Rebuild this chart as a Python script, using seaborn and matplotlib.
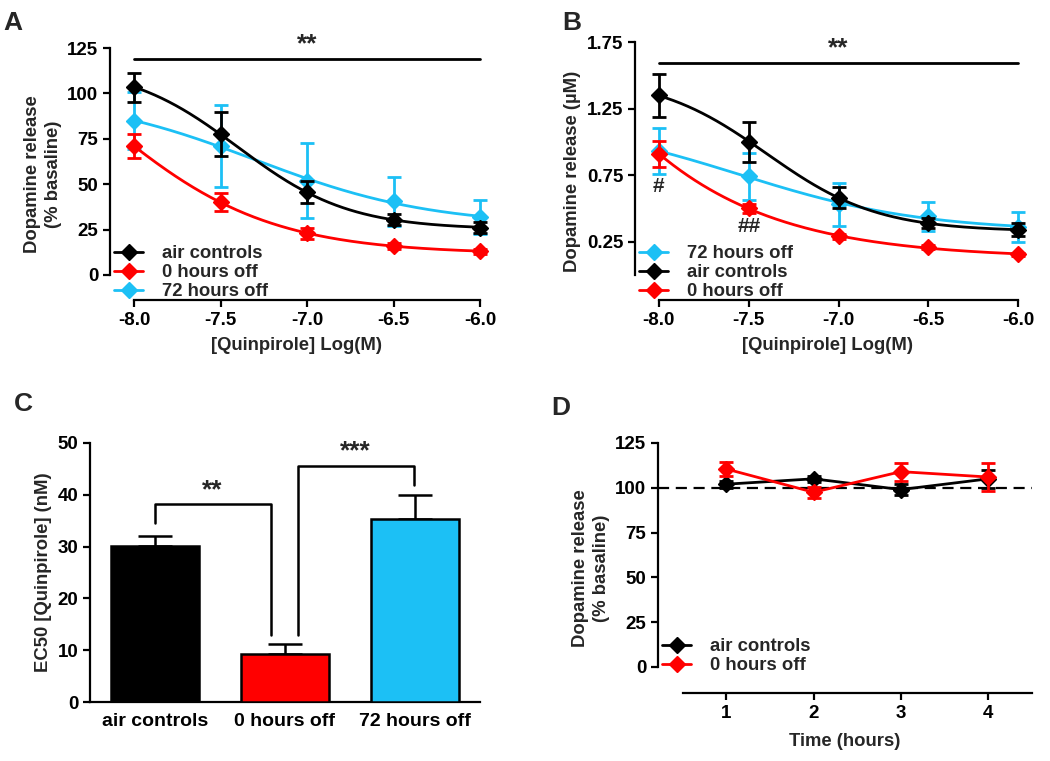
import numpy as np
import pandas as pd
import matplotlib
matplotlib.use('Agg')
import matplotlib.pyplot as plt
import seaborn as sns
from matplotlib.lines import Line2D

# ---- DATA ----
log_conc = [-8.0, -7.5, -7.0, -6.5, -6.0]

# panel A, % basaline
a_air = [103.5, 77.5, 45.5, 30.5, 26.0]
a_air_err = [8.0, 12.0, 6.0, 3.0, 3.0]
a_zero = [71.0, 40.0, 23.0, 16.0, 13.0]
a_zero_err = [6.5, 5.0, 3.0, 1.5, 1.5]
a_72 = [85.0, 71.0, 52.0, 40.5, 32.0]
a_72_err = [15.5, 22.5, 20.5, 13.5, 9.5]

# panel B, uM
b_air = [1.35, 1.00, 0.58, 0.39, 0.34]
b_air_err = [0.16, 0.15, 0.08, 0.04, 0.05]
b_zero = [0.91, 0.50, 0.29, 0.21, 0.155]
b_zero_err = [0.095, 0.035, 0.02, 0.015, 0.01]
b_72 = [0.93, 0.74, 0.53, 0.44, 0.36]
b_72_err = [0.175, 0.18, 0.16, 0.11, 0.11]

# panel C, EC50 (nM)
groups = ['air controls', '0 hours off', '72 hours off']
ec50 = [30.2, 9.2, 35.3]
ec50_err = [1.8, 2.0, 4.6]

# panel D, time course
hours = [1, 2, 3, 4]
d_air = [102.0, 105.0, 99.0, 105.0]
d_air_err = [2.0, 1.5, 3.0, 5.0]
d_zero = [110.5, 97.5, 109.0, 106.0]
d_zero_err = [4.0, 3.0, 5.0, 8.0]

BLACK = '#000000'
RED = '#FF0000'
CYAN = '#1CC0F5'

sns.set_theme(style='ticks')
plt.rcParams['font.family'] = ['Liberation Sans', 'DejaVu Sans']
plt.rcParams['font.weight'] = 'bold'
plt.rcParams['axes.labelweight'] = 'bold'
plt.rcParams['axes.linewidth'] = 1.6
plt.rcParams['xtick.major.width'] = 1.6
plt.rcParams['ytick.major.width'] = 1.6
plt.rcParams['xtick.major.size'] = 5
plt.rcParams['ytick.major.size'] = 5
plt.rcParams['xtick.labelsize'] = 13.5
plt.rcParams['ytick.labelsize'] = 13.5
plt.rcParams['axes.labelsize'] = 13.3
plt.rcParams['xtick.color'] = 'black'
plt.rcParams['ytick.color'] = 'black'
plt.rcParams['axes.edgecolor'] = 'black'

LEG_FS = 13.3


def hill_fit(x, y):
    # crude 4-parameter logistic fit: grid over EC50/slope, least squares for top/bottom
    x = np.asarray(x)
    y = np.asarray(y)
    best = None
    for ec in np.linspace(-10, -5, 201):
        for h in np.linspace(0.3, 3.0, 55):
            f = 1.0 / (1.0 + 10 ** ((x - ec) * h))
            A = np.column_stack([np.ones_like(f), f])
            coef, res, _, _ = np.linalg.lstsq(A, y, rcond=None)
            sse = np.sum((A @ coef - y) ** 2)
            if best is None or sse < best[0]:
                best = (sse, ec, h, coef)
    _, ec, h, coef = best
    xs = np.linspace(x.min(), x.max(), 200)
    fs = 1.0 / (1.0 + 10 ** ((xs - ec) * h))
    return xs, coef[0] + coef[1] * fs


def draw_series(ax, x, y, err, color, fit=True, z=3):
    if fit:
        xs, ys = hill_fit(x, y)
        sns.lineplot(x=xs, y=ys, color=color, lw=2, ax=ax, zorder=z)
    else:
        sns.lineplot(x=x, y=y, color=color, lw=2, ax=ax, zorder=z)
    ax.errorbar(x, y, yerr=err, fmt='D', color=color, ms=8, elinewidth=2,
                capsize=5, capthick=2, zorder=z + 1, clip_on=False)


def leg_handle(color):
    return Line2D([0], [0], color=color, lw=2, marker='D', ms=8)


def style_axes(ax):
    for side in ['top', 'right']:
        ax.spines[side].set_visible(False)


fig = plt.figure(figsize=(10.5, 7.61), dpi=100)

# ---------- A ----------
axA = fig.add_axes([0.1048, 0.6058, 0.3543, 0.3311])
draw_series(axA, log_conc, a_72, a_72_err, CYAN, z=3)
draw_series(axA, log_conc, a_zero, a_zero_err, RED, z=5)
draw_series(axA, log_conc, a_air, a_air_err, BLACK, z=7)
axA.set_xlim(-8.138, -5.99)
axA.set_ylim(-13.8, 125)
axA.set_yticks([0, 25, 50, 75, 100, 125])
axA.set_xticks(log_conc)
axA.set_xticklabels(['-8.0', '-7.5', '-7.0', '-6.5', '-6.0'])
axA.spines['left'].set_bounds(0, 125)
axA.spines['bottom'].set_bounds(-8, -6)
style_axes(axA)
axA.set_xlabel('[Quinpirole] Log(M)', labelpad=6)
axA.set_ylabel('Dopamine release\n(% basaline)', labelpad=4, linespacing=1.25)
axA.plot([-8, -6], [119, 119], color='black', lw=2, clip_on=False)
axA.text(-7.0, 120.5, '**', ha='center', va='bottom', fontsize=19, fontweight='bold')
axA.legend([leg_handle(BLACK), leg_handle(RED), leg_handle(CYAN)],
           ['air controls', '0 hours off', '72 hours off'],
           loc='lower left', bbox_to_anchor=(0.0, -0.015), frameon=False,
           fontsize=LEG_FS, handlelength=1.6, handletextpad=1.0, labelspacing=0.1,
           borderpad=0.2, borderaxespad=0)

# ---------- B ----------
axB = fig.add_axes([0.6048, 0.6058, 0.3667, 0.3390])
draw_series(axB, log_conc, b_72, b_72_err, CYAN, z=3)
draw_series(axB, log_conc, b_zero, b_zero_err, RED, z=5)
draw_series(axB, log_conc, b_air, b_air_err, BLACK, z=7)
axB.set_xlim(-8.133, -5.99)
axB.set_ylim(-0.1875, 1.75)
axB.set_yticks([0.25, 0.75, 1.25, 1.75])
axB.set_yticklabels(['0.25', '0.75', '1.25', '1.75'])
axB.set_xticks(log_conc)
axB.set_xticklabels(['-8.0', '-7.5', '-7.0', '-6.5', '-6.0'])
axB.spines['left'].set_bounds(0, 1.75)
axB.spines['bottom'].set_bounds(-8, -6)
style_axes(axB)
axB.set_xlabel('[Quinpirole] Log(M)', labelpad=6)
axB.set_ylabel('Dopamine release (\u00b5M)', labelpad=4)
axB.plot([-8, -6], [1.59, 1.59], color='black', lw=2, clip_on=False)
axB.text(-7.0, 1.615, '**', ha='center', va='bottom', fontsize=19, fontweight='bold')
axB.text(-8.0, 0.665, '#', ha='center', va='center', fontsize=15, fontweight='bold')
axB.text(-7.5, 0.365, '##', ha='center', va='center', fontsize=15, fontweight='bold')
axB.legend([leg_handle(CYAN), leg_handle(BLACK), leg_handle(RED)],
           ['72 hours off', 'air controls', '0 hours off'],
           loc='lower left', bbox_to_anchor=(0.0, -0.015), frameon=False,
           fontsize=LEG_FS, handlelength=1.6, handletextpad=1.0, labelspacing=0.1,
           borderpad=0.2, borderaxespad=0)

# ---------- C ----------
axC = fig.add_axes([0.0857, 0.0775, 0.3714, 0.3404])
df_c = pd.DataFrame({'group': groups, 'ec50': ec50})
sns.barplot(data=df_c, x='group', y='ec50', hue='group',
            palette=[BLACK, RED, CYAN], saturation=1, width=0.67, edgecolor='black',
            linewidth=1.8, legend=False, ax=axC, zorder=3)
axC.errorbar(range(len(groups)), ec50, yerr=[np.zeros(len(ec50)), ec50_err],
             fmt='none', ecolor='black', elinewidth=1.8, capsize=12, capthick=1.8,
             zorder=2)
axC.set_xlim(-0.5, 2.5)
axC.set_ylim(0, 50)
axC.set_yticks([0, 10, 20, 30, 40, 50])
axC.tick_params(axis='x', length=0, pad=8, labelsize=14)
axC.set_xlabel('')
axC.set_ylabel('EC50 [Quinpirole] (nM)', labelpad=4)
style_axes(axC)
# significance brackets
axC.plot([0.0, 0.0, 0.89, 0.89], [34.5, 38.2, 38.2, 12.9], color='black', lw=1.8)
axC.text(0.44, 38.6, '**', ha='center', va='bottom', fontsize=19, fontweight='bold')
axC.plot([1.10, 1.10, 1.99, 1.99], [12.9, 45.6, 45.6, 41.9], color='black', lw=1.8)
axC.text(1.54, 46.0, '***', ha='center', va='bottom', fontsize=19, fontweight='bold')

# ---------- D ----------
axD = fig.add_axes([0.6267, 0.0894, 0.3562, 0.3285])
axD.axhline(100, color='black', lw=1.6, dashes=(5, 3), zorder=1)
draw_series(axD, hours, d_air, d_air_err, BLACK, fit=False, z=3)
draw_series(axD, hours, d_zero, d_zero_err, RED, fit=False, z=5)
axD.set_xlim(0.22, 4.5)
axD.set_ylim(-14.5, 125)
axD.set_yticks([0, 25, 50, 75, 100, 125])
axD.set_xticks(hours)
axD.spines['left'].set_bounds(0, 125)
axD.spines['bottom'].set_bounds(0.5, 4.5)
style_axes(axD)
axD.set_xlabel('Time (hours)', labelpad=8)
axD.set_ylabel('Dopamine release\n(% basaline)', labelpad=4, linespacing=1.25)
axD.legend([leg_handle(BLACK), leg_handle(RED)], ['air controls', '0 hours off'],
           loc='lower left', bbox_to_anchor=(0.0, 0.06), frameon=False,
           fontsize=LEG_FS, handlelength=1.6, handletextpad=1.0, labelspacing=0.1,
           borderpad=0.2, borderaxespad=0)

# panel letters
for lbl, x, y in [('A', 0.003, 0.985), ('B', 0.535, 0.985), ('C', 0.013, 0.485), ('D', 0.525, 0.48)]:
    fig.text(x, y, lbl, fontsize=19, fontweight='bold', va='top', ha='left')

fig.savefig('out.png', dpi=100)
